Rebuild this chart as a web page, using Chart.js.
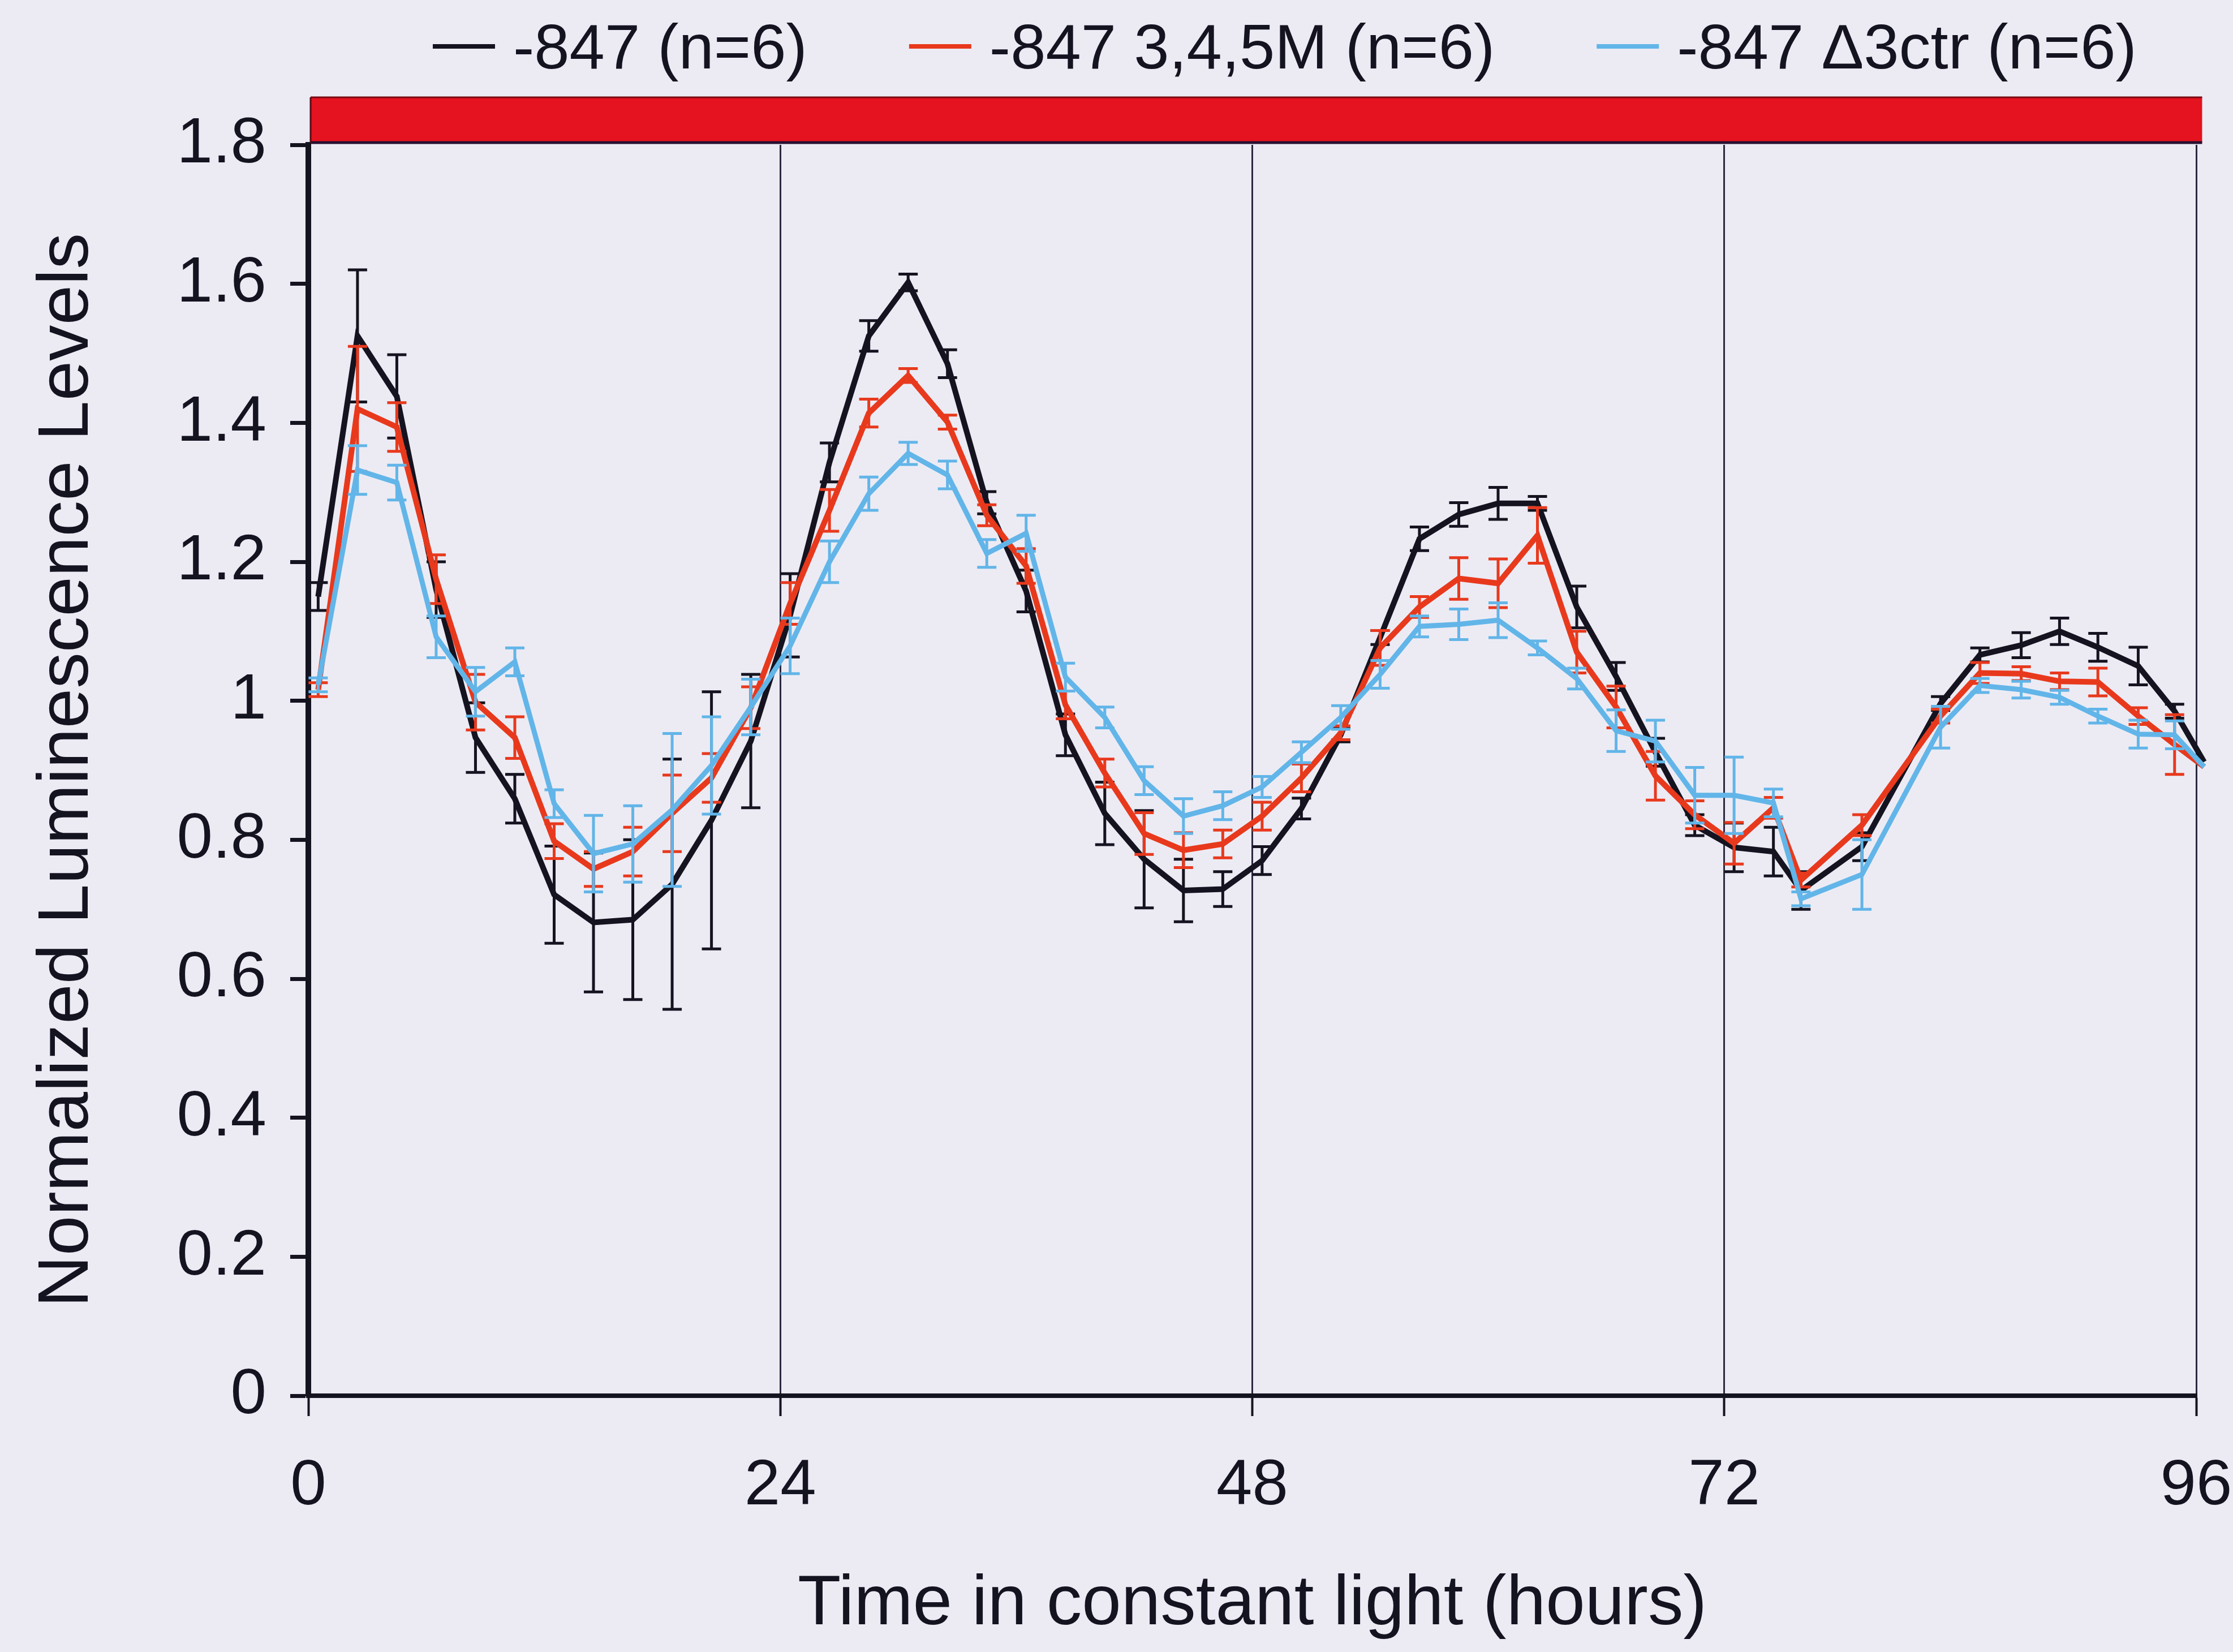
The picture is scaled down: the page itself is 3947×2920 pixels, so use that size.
<!DOCTYPE html>
<html>
<head>
<meta charset="utf-8">
<script src="https://cdn.jsdelivr.net/npm/chart.js@4.4.1/dist/chart.umd.min.js"></script>
<style>
  html, body { margin: 0; padding: 0; background: #ECEBF4; }
  #wrap { width: 3947px; height: 2920px; }
</style>
</head>
<body>
<div id="wrap"><canvas id="c" width="3947" height="2920"></canvas></div>
<script>
// ---- data ----
const hours = [0.5, 2.5, 4.5, 6.5, 8.5, 10.5, 12.5, 14.5, 16.5, 18.5, 20.5, 22.5,
  24.5, 26.5, 28.5, 30.5, 32.5, 34.5, 36.5, 38.5, 40.5, 42.5, 44.5, 46.5,
  48.5, 50.5, 52.5, 54.5, 56.5, 58.5, 60.5, 62.5, 64.5, 66.5, 68.5, 70.5,
  72.5, 74.5, 75.9, 79.0, 83.0, 85.0, 87.1, 89.05, 91.0, 93.05, 94.9, 96.4];

const seriesLabels = ['-847 (n=6)', '-847 3,4,5M (n=6)', '-847 \u03943ctr (n=6)'];

const wildType = [1.15, 1.525, 1.438, 1.16, 0.947, 0.859, 0.721, 0.681, 0.685, 0.736, 0.828, 0.942,
  1.123, 1.343, 1.525, 1.602, 1.485, 1.285, 1.158, 0.951, 0.838, 0.772, 0.727, 0.729,
  0.770, 0.845, 0.951, 1.091, 1.233, 1.268, 1.284, 1.284, 1.135, 1.035, 0.926, 0.821,
  0.789, 0.783, 0.727, 0.790, 0.996, 1.066, 1.080, 1.100, 1.077, 1.050, 0.985, 0.912];
const wildTypeErr = [0.02, 0.095, 0.06, 0.04, 0.05, 0.035, 0.07, 0.10, 0.115, 0.18, 0.185, 0.096,
  0.06, 0.028, 0.022, 0.012, 0.02, 0.016, 0.03, 0.03, 0.045, 0.07, 0.045, 0.025,
  0.02, 0.015, 0.01, 0.01, 0.017, 0.017, 0.023, 0.01, 0.03, 0.02, 0.02, 0.015,
  0.035, 0.035, 0.027, 0.02, 0.01, 0.01, 0.018, 0.019, 0.02, 0.027, 0.01, 0];

const mutant345M = [1.016, 1.42, 1.394, 1.175, 0.998, 0.947, 0.798, 0.758, 0.783, 0.838, 0.889, 0.99,
  1.14, 1.274, 1.414, 1.468, 1.401, 1.267, 1.194, 0.994, 0.896, 0.809, 0.785, 0.794,
  0.834, 0.889, 0.954, 1.076, 1.135, 1.176, 1.169, 1.238, 1.07, 0.991, 0.892, 0.836,
  0.795, 0.846, 0.742, 0.821, 0.978, 1.040, 1.039, 1.028, 1.027, 0.978, 0.937, 0.905];
const mutant345MErr = [0.01, 0.09, 0.035, 0.035, 0.04, 0.03, 0.025, 0.025, 0.035, 0.055, 0.035, 0.03,
  0.03, 0.03, 0.02, 0.01, 0.01, 0.015, 0.025, 0.02, 0.02, 0.03, 0.025, 0.02,
  0.02, 0.02, 0.01, 0.025, 0.015, 0.03, 0.035, 0.04, 0.03, 0.03, 0.035, 0.02,
  0.03, 0.015, 0.01, 0.015, 0.01, 0.015, 0.01, 0.012, 0.02, 0.012, 0.043, 0];

const delta3ctr = [1.023, 1.332, 1.314, 1.092, 1.013, 1.056, 0.852, 0.78, 0.794, 0.843, 0.907, 0.991,
  1.079, 1.200, 1.298, 1.356, 1.325, 1.212, 1.241, 1.034, 0.976, 0.885, 0.834, 0.849,
  0.876, 0.926, 0.976, 1.038, 1.107, 1.110, 1.116, 1.076, 1.032, 0.957, 0.942, 0.864,
  0.864, 0.853, 0.715, 0.750, 0.962, 1.022, 1.016, 1.005, 0.978, 0.952, 0.951, 0.905];
const delta3ctrErr = [0.01, 0.035, 0.025, 0.03, 0.035, 0.02, 0.02, 0.055, 0.055, 0.11, 0.07, 0.04,
  0.04, 0.03, 0.024, 0.016, 0.02, 0.02, 0.026, 0.02, 0.015, 0.02, 0.025, 0.02,
  0.015, 0.015, 0.017, 0.02, 0.015, 0.022, 0.025, 0.01, 0.015, 0.03, 0.03, 0.04,
  0.055, 0.02, 0.01, 0.05, 0.03, 0.01, 0.012, 0.01, 0.01, 0.02, 0.02, 0];

const xTicks = [0, 24, 48, 72, 96];
const yTicks = [0, 0.2, 0.4, 0.6, 0.8, 1, 1.2, 1.4, 1.6, 1.8];
const lightBar = { from: 0, to: 96.3, color: '#E5121F' };

// ---- styling ----
const FONT = '"Liberation Sans", Arial, Helvetica, sans-serif';
const INK = '#141320';
const colors = ['#15131f', '#E8391D', '#62B5E8'];
const errorSets = [wildTypeErr, mutant345MErr, delta3ctrErr];
const valueSets = [wildType, mutant345M, delta3ctr];

const bgPlugin = {
  id: 'bg',
  beforeDraw(chart) {
    const ctx = chart.ctx;
    ctx.save();
    ctx.fillStyle = '#ECEBF4';
    ctx.fillRect(0, 0, chart.width, chart.height);
    ctx.restore();
  }
};

const lightBarPlugin = {
  id: 'lightBar',
  afterDraw(chart) {
    const ctx = chart.ctx, xs = chart.scales.x, area = chart.chartArea;
    const x1 = xs.getPixelForValue(lightBar.from) + 4;
    const x2 = xs.getPixelForValue(lightBar.to);
    const top = area.top - 84, bottom = area.top - 4;
    ctx.save();
    ctx.fillStyle = lightBar.color;
    ctx.fillRect(x1, top, x2 - x1, bottom - top);
    ctx.strokeStyle = '#7a0a12';
    ctx.lineWidth = 3;
    ctx.beginPath(); ctx.moveTo(x1, top); ctx.lineTo(x2, top); ctx.stroke();
    ctx.strokeStyle = '#2a1030';
    ctx.lineWidth = 5;
    ctx.beginPath(); ctx.moveTo(x1, bottom); ctx.lineTo(x2, bottom); ctx.stroke();
    ctx.lineWidth = 3;
    ctx.strokeStyle = '#5a0a14';
    ctx.beginPath(); ctx.moveTo(x1, top); ctx.lineTo(x1, bottom); ctx.stroke();
    ctx.restore();
  }
};

const errorBarPlugin = {
  id: 'errorBars',
  afterDatasetDraw(chart, args) {
    const errs = errorSets[args.index];
    const vals = valueSets[args.index];
    if (!errs) return;
    const ctx = chart.ctx, ys = chart.scales.y;
    ctx.save();
    ctx.strokeStyle = colors[args.index];
    ctx.lineWidth = 5;
    args.meta.data.forEach((pt, i) => {
      const e = errs[i];
      if (!e) return;
      const yLo = ys.getPixelForValue(vals[i] - e);
      const yHi = ys.getPixelForValue(vals[i] + e);
      const x = pt.x, hw = 17;
      ctx.beginPath();
      ctx.moveTo(x, yLo); ctx.lineTo(x, yHi);
      ctx.moveTo(x - hw, yLo); ctx.lineTo(x + hw, yLo);
      ctx.moveTo(x - hw, yHi); ctx.lineTo(x + hw, yHi);
      ctx.stroke();
    });
    ctx.restore();
  }
};

const legendPlugin = {
  id: 'customLegend',
  afterDraw(chart) {
    const ctx = chart.ctx;
    ctx.save();
    ctx.font = '112px ' + FONT;
    ctx.textBaseline = 'alphabetic';
    let x = 765;
    const yLine = 82, yText = 121;
    chart.data.datasets.forEach((ds, i) => {
      ctx.strokeStyle = colors[i];
      ctx.lineWidth = 8;
      ctx.beginPath(); ctx.moveTo(x, yLine); ctx.lineTo(x + 110, yLine); ctx.stroke();
      x += 110 + 32;
      ctx.fillStyle = INK;
      ctx.fillText(ds.label, x, yText);
      x += ctx.measureText(ds.label).width + 180;
    });
    ctx.restore();
  }
};

const datasets = valueSets.map((vals, k) => ({
  label: seriesLabels[k],
  data: hours.map((h, i) => ({ x: h, y: vals[i] })),
  borderColor: colors[k],
  backgroundColor: colors[k],
  borderWidth: k === 2 ? 9 : 10,
  pointRadius: 0,
  pointHoverRadius: 0,
  tension: 0,
  fill: false,
  clip: false,
  order: 3 - k
}));

new Chart(document.getElementById('c'), {
  type: 'line',
  data: { datasets },
  plugins: [bgPlugin, errorBarPlugin, lightBarPlugin, legendPlugin],
  options: {
    responsive: false,
    animation: false,
    devicePixelRatio: 1,
    layout: { padding: { top: 256, right: 65, bottom: 0, left: 0 } },
    plugins: { legend: { display: false }, tooltip: { enabled: false } },
    scales: {
      x: {
        type: 'linear',
        min: 0, max: 96,
        afterBuildTicks: (s) => { s.ticks = xTicks.map(v => ({ value: v })); },
        afterFit: (s) => { s.height = 453; s.paddingRight = 0; s.paddingLeft = 0; },
        ticks: { color: INK, font: { family: FONT, size: 114 }, padding: 56, maxRotation: 0 },
        grid: { color: '#2b2940', lineWidth: 3, drawTicks: true, tickLength: 36, tickWidth: 4, tickColor: INK },
        border: { display: true, color: INK, width: 8 },
        title: { display: true, text: 'Time in constant light (hours)', color: INK,
                 font: { family: FONT, size: 125 }, padding: { top: 0, bottom: 8 } }
      },
      y: {
        min: 0, max: 1.8,
        afterBuildTicks: (s) => { s.ticks = yTicks.map(v => ({ value: v })); },
        afterFit: (s) => { s.width = 545; },
        ticks: { color: INK, font: { family: FONT, size: 114 }, padding: 42,
                 callback: (v) => String(Number(v.toFixed(1))) },
        grid: { drawOnChartArea: false, drawTicks: true, tickLength: 32, tickWidth: 7, tickColor: INK },
        border: { display: true, color: INK, width: 10 },
        title: { display: true, text: 'Normalized Luminescence Levels', color: INK,
                 font: { family: FONT, size: 127 }, padding: { top: 44, bottom: 0 } }
      }
    }
  }
});
</script>
</body>
</html>
